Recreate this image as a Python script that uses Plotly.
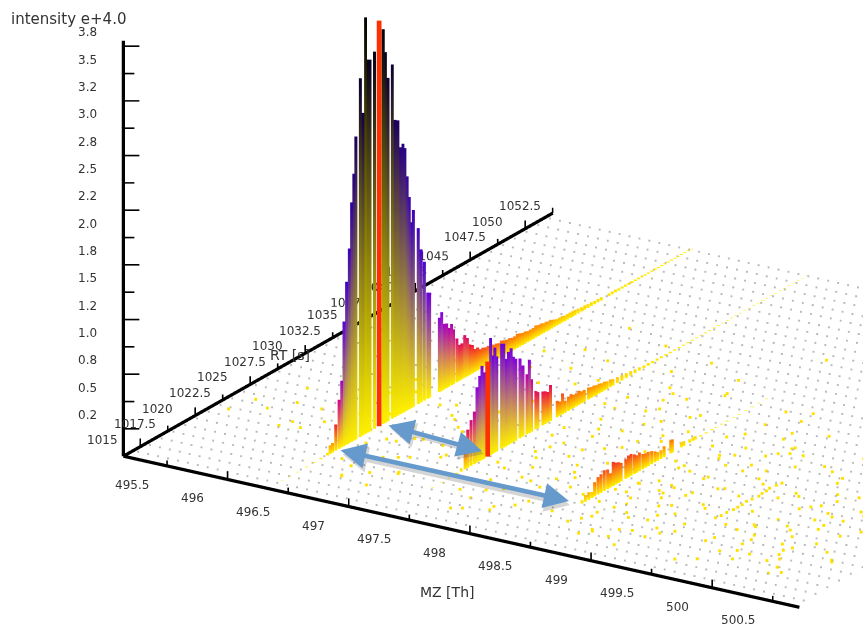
import plotly.graph_objects as go
import numpy as np

# axis extents and ticks
MZ_MIN, MZ_MAX = 495.14, 500.72
RT_MIN, RT_MAX = 1013.47, 1052.5
Z_TOP = 3.8
mz_ticks = [495.5, 496, 496.5, 497, 497.5, 498, 498.5, 499, 499.5, 500, 500.5]
mz_labels = ["495.5", "496", "496.5", "497", "497.5", "498", "498.5", "499", "499.5", "500", "500.5"]
rt_ticks = [1015, 1017.5, 1020, 1022.5, 1025, 1027.5, 1030, 1032.5, 1035, 1037.5, 1040, 1042.5, 1045, 1047.5, 1050, 1052.5]
rt_labels = ["1015", "1017.5", "1020", "1022.5", "1025", "1027.5", "1030", "1032.5", "1035", "1037.5", "1040", "1042.5", "1045", "1047.5", "1050", "1052.5"]
z_ticks = [0.25, 0.5, 0.75, 1.0, 1.25, 1.5, 1.75, 2.0, 2.25, 2.5, 2.75, 3.0, 3.25, 3.5, 3.75]
z_labels = ["0.2", "0.5", "0.8", "1.0", "1.2", "1.5", "1.8", "2.0", "2.2", "2.5", "2.8", "3.0", "3.2", "3.5", "3.8"]

# ridge 1 (m/z 496.34)
r1_mz = 496.34
r1_rt = [1014.7, 1015.4, 1016.1, 1016.9, 1017.6, 1018.2, 1018.81, 1019.05, 1019.26, 1019.56, 1019.86, 1020.10, 1020.31, 1020.55, 1020.79, 1021.00, 1021.20, 1021.39,
         1021.80, 1022.03, 1022.27, 1022.50, 1022.68, 1023.08, 1023.88, 1024.07, 1024.31, 1024.70, 1024.95, 1025.21, 1025.46, 1025.67, 1025.85, 1026.05, 1026.25, 1026.42, 1026.62,
         1027.06, 1027.32, 1027.62, 1027.92, 1028.10,
         1028.98, 1029.19, 1029.40, 1029.64, 1029.82, 1030.09, 1030.27, 1030.57, 1030.78, 1031.02, 1031.29, 1031.53, 1031.74, 1031.98, 1032.22, 1032.46, 1032.70, 1032.94, 1033.18, 1033.42,
         1033.66, 1033.90, 1034.14, 1034.38, 1034.62, 1034.86, 1035.10, 1035.34, 1035.58, 1035.82, 1036.06, 1036.30, 1036.54, 1036.78, 1037.02, 1037.26, 1037.50, 1037.74, 1037.98,
         1038.22, 1038.46, 1038.70, 1038.94, 1039.18, 1039.42, 1039.66, 1039.90, 1040.14, 1040.38, 1040.62, 1040.86, 1041.10, 1041.31,
         1041.6, 1041.9, 1042.2, 1042.5, 1042.8, 1043.1, 1043.4, 1043.7, 1044.4, 1044.7, 1045.0, 1045.3, 1045.6, 1045.9, 1046.2, 1046.5, 1046.8, 1047.1, 1047.4, 1047.7, 1048.0,
         1048.3, 1048.6, 1048.9, 1049.2, 1049.5, 1049.8, 1050.1, 1050.4, 1050.7, 1051.0, 1051.3, 1051.6, 1051.9]
r1_int = [0.004, 0.005, 0.005, 0.006, 0.008, 0.012, 0.024, 0.079, 0.088, 0.24, 0.45, 0.61, 1.14, 1.49, 1.78, 2.19, 2.44, 2.77,
          3.28, 2.95, 3.81, 3.41, 3.40, 3.45, 3.61, 3.39, 3.14, 3.24, 2.72, 2.70, 2.44, 2.46, 2.41, 2.14, 1.94, 1.70, 1.80,
          1.61, 1.40, 1.27, 0.97, 0.96,
          0.68, 0.72, 0.60, 0.59, 0.54, 0.56, 0.50, 0.40, 0.33, 0.33, 0.39, 0.35, 0.28, 0.26, 0.21, 0.21, 0.18, 0.18, 0.17, 0.17,
          0.16, 0.15, 0.15, 0.14, 0.15, 0.14, 0.13, 0.13, 0.12, 0.12, 0.13, 0.12, 0.11, 0.11, 0.10, 0.10, 0.10, 0.11, 0.10,
          0.10, 0.09, 0.09, 0.08, 0.08, 0.07, 0.06, 0.06, 0.06, 0.05, 0.05, 0.05, 0.05, 0.05,
          0.045, 0.04, 0.04, 0.035, 0.035, 0.03, 0.03, 0.03, 0.025, 0.025, 0.025, 0.02, 0.02, 0.02, 0.018, 0.018, 0.015, 0.015, 0.015, 0.012, 0.012,
          0.012, 0.012, 0.010, 0.010, 0.010, 0.010, 0.010, 0.008, 0.008, 0.008, 0.008, 0.008, 0.006]
r1_apex_rt, r1_apex_int = 1023.50, 3.71

# ridge 2 (m/z 497.30)
r2_mz = 497.30
r2_rt = [1017.8, 1018.6, 1019.3, 1020.0, 1020.39, 1020.75, 1020.99, 1021.29, 1021.59, 1021.83, 1022.07, 1022.28, 1022.46, 1023.06, 1023.24, 1023.45, 1023.63, 1024.06, 1024.26, 1024.45, 1024.69, 1024.93,
         1025.14, 1025.35, 1025.74, 1026.01, 1026.37, 1026.59, 1026.79, 1027.18, 1027.37, 1027.82, 1028.03, 1028.26, 1028.51,
         1029.12, 1029.36, 1029.60, 1029.84, 1030.14, 1030.38, 1030.62, 1030.86, 1031.10, 1031.34, 1031.58, 1031.97, 1032.21, 1032.45, 1032.69, 1032.93, 1033.17, 1033.41, 1033.65, 1033.95, 1034.19,
         1034.6, 1035.0, 1035.4, 1035.8, 1036.2, 1036.6, 1037.0, 1037.4, 1037.8, 1038.2, 1038.6, 1039.0, 1039.4, 1039.8, 1040.2, 1040.6, 1041.0, 1041.4, 1041.8, 1042.2, 1042.6, 1043.0,
         1043.4, 1043.8, 1044.2, 1044.6, 1045.0, 1045.4, 1045.8, 1046.2, 1046.6, 1047.0, 1047.4, 1047.8, 1048.2, 1048.6, 1049.0, 1049.4, 1049.8, 1050.2, 1050.6, 1051.0, 1051.4, 1051.8]
r2_int = [0.004, 0.005, 0.006, 0.012, 0.03, 0.27, 0.35, 0.42, 0.48, 0.69, 0.78, 0.86, 0.79, 1.07, 0.90, 0.96, 0.87, 0.96, 0.95, 0.80, 0.85, 0.87,
          0.78, 0.75, 0.73, 0.65, 0.55, 0.67, 0.48, 0.35, 0.33, 0.31, 0.30, 0.28, 0.33,
          0.15, 0.13, 0.19, 0.11, 0.13, 0.14, 0.12, 0.12, 0.13, 0.11, 0.11, 0.11, 0.10, 0.10, 0.09, 0.09, 0.08, 0.08, 0.07, 0.07, 0.06,
          0.055, 0.05, 0.045, 0.04, 0.035, 0.03, 0.025, 0.025, 0.02, 0.02, 0.018, 0.016, 0.014, 0.012, 0.012, 0.010, 0.010, 0.010, 0.008, 0.008, 0.008, 0.008,
          0.007, 0.007, 0.006, 0.006, 0.006, 0.006, 0.005, 0.005, 0.005, 0.005, 0.005, 0.005, 0.005, 0.004, 0.004, 0.004, 0.004, 0.004, 0.004, 0.004, 0.004, 0.004]
r2_apex_rt, r2_apex_int = 1022.79, 0.87

# ridge 3 (m/z 498.35)
r3_mz = 498.35
r3_rt = [1019.82, 1020.12, 1020.42, 1020.72, 1020.96, 1021.26, 1021.54, 1021.84, 1022.14, 1022.38, 1022.65, 1022.89, 1023.13, 1023.37, 1023.79, 1024.03, 1024.27, 1024.57, 1024.78, 1025.03, 1025.33,
         1025.60, 1025.84, 1026.14, 1026.44, 1026.68, 1026.98, 1027.28, 1027.88, 1028.03, 1028.85, 1029.06, 1029.60, 1029.90, 1030.11,
         1030.6, 1031.1, 1031.6, 1032.0, 1032.5, 1033.0, 1033.6, 1034.1, 1034.7, 1035.3, 1035.9, 1036.6]
r3_int = [0.03, 0.06, 0.07, 0.055, 0.13, 0.16, 0.17, 0.19, 0.18, 0.13, 0.22, 0.20, 0.19, 0.17, 0.18, 0.20, 0.20, 0.18, 0.16, 0.17, 0.14,
          0.13, 0.13, 0.12, 0.10, 0.08, 0.08, 0.10, 0.12, 0.12, 0.045, 0.045, 0.03, 0.03, 0.03,
          0.012, 0.010, 0.010, 0.008, 0.008, 0.008, 0.006, 0.006, 0.006, 0.005, 0.005, 0.005]

# scattered low-intensity peaks on the floor
noise_mz = [495.27, 495.33, 495.49, 495.52, 495.61, 495.68, 495.74, 495.78, 495.82, 495.89, 495.92, 495.95, 496.02, 496.05, 496.10, 496.10, 496.15, 496.18, 496.20, 496.22, 496.25, 496.28, 495.97, 496.07,
            496.44, 496.48, 496.51, 496.55, 496.57, 496.60, 496.62, 496.66, 496.69, 496.71, 496.74, 496.77, 496.79, 496.82, 496.85, 496.87, 496.90, 496.92, 496.95, 496.98, 497.00, 497.03, 497.06, 497.09, 497.12, 497.15, 496.53, 496.64, 496.76, 496.88, 497.01, 497.13, 496.47, 496.59, 496.72, 496.84,
            497.42, 497.45, 497.48, 497.51, 497.53, 497.56, 497.58, 497.61, 497.63, 497.66, 497.68, 497.71, 497.73, 497.76, 497.78, 497.81, 497.83, 497.86, 497.88, 497.91, 497.93, 497.96, 497.98, 498.01, 498.03, 498.06, 498.08, 498.11, 498.13, 498.16, 498.18, 498.21, 498.23, 498.26, 497.50, 497.62, 497.74, 497.87, 497.99, 498.12, 497.44, 497.57, 497.69, 497.82, 497.94, 498.07,
            498.45, 498.48, 498.51, 498.53, 498.56, 498.58, 498.61, 498.64, 498.66, 498.69, 498.71, 498.74, 498.76, 498.79, 498.82, 498.84, 498.87, 498.89, 498.92, 498.95, 498.97, 499.00, 499.03, 499.05, 499.08, 499.11, 499.14, 499.17, 499.20, 499.23, 498.50, 498.60, 498.70, 498.80, 498.90, 499.02, 499.12, 498.55, 498.67, 498.78, 498.91, 499.06,
            499.29, 499.30, 499.30, 499.31, 499.31, 499.31, 499.30, 499.31, 499.32, 499.31, 499.31, 499.30, 499.31, 499.32,
            499.40, 499.44, 499.47, 499.51, 499.54, 499.58, 499.61, 499.65, 499.68, 499.72, 499.75, 499.79, 499.82, 499.86, 499.89, 499.93, 499.96, 500.00, 500.04, 500.08, 500.12, 500.16, 500.20, 500.25, 500.30, 500.36, 500.42, 499.48, 499.60, 499.74, 499.88, 500.02, 500.18, 500.33, 499.55, 499.70, 499.84, 500.10,
            497.20, 498.30, 499.15, 499.35, 498.62, 496.80, 497.65,
            # second reading, denser patches
            497.46, 497.52, 497.55, 497.60, 497.64, 497.67, 497.72, 497.75, 497.79, 497.84, 497.89, 497.92, 497.97, 498.00, 498.04, 498.09, 498.14, 498.17, 498.22, 498.25,
            498.43, 498.46, 498.49, 498.52, 498.54, 498.57, 498.59, 498.62, 498.65, 498.68, 498.72, 498.75, 498.77, 498.81, 498.83, 498.86, 498.88, 498.93, 498.96, 498.99, 499.01, 499.04, 499.07, 499.10, 499.13, 499.16, 499.19, 499.22, 498.47, 498.58, 498.69, 498.73, 498.85, 498.94,
            499.42, 499.45, 499.49, 499.52, 499.56, 499.59, 499.63, 499.66, 499.69, 499.73, 499.77, 499.80, 499.83, 499.87, 499.91, 499.94, 499.98, 500.01, 500.05, 500.09, 500.13, 500.17, 500.22, 500.27, 500.31, 500.38, 500.44, 500.50, 499.62, 499.76, 499.90, 500.06, 500.15, 500.28,
            496.46, 496.52, 496.58, 496.63, 496.68, 496.73, 496.78, 496.83, 496.89, 496.94, 496.99, 497.04, 497.10, 497.16,
            500.03, 499.97, 499.50, 498.40]
noise_rt = [1021.6, 1023.4, 1022.7, 1026.0, 1024.1, 1028.3, 1021.0, 1021.8, 1024.0, 1021.3, 1026.4, 1029.0, 1031.5, 1027.6, 1033.0, 1024.4, 1030.2, 1026.0, 1028.4, 1023.5, 1031.0, 1025.2, 1022.6, 1029.8,
            1021.2, 1027.5, 1019.4, 1024.3, 1031.1, 1022.2, 1034.2, 1026.6, 1020.0, 1029.4, 1023.1, 1017.9, 1032.3, 1025.4, 1020.7, 1035.1, 1028.2, 1022.9, 1018.5, 1030.7, 1025.9, 1021.5, 1033.4, 1027.1, 1019.8, 1024.0, 1036.4, 1016.8, 1037.6, 1016.4, 1036.9, 1029.1, 1032.8, 1018.2, 1026.2, 1030.2,
            1022.4, 1028.1, 1018.3, 1033.2, 1024.6, 1020.2, 1030.0, 1026.3, 1017.6, 1035.4, 1022.7, 1027.8, 1019.5, 1032.1, 1024.9, 1021.1, 1029.2, 1017.2, 1034.5, 1026.7, 1020.6, 1031.3, 1023.2, 1018.7, 1028.4, 1036.2, 1025.1, 1021.4, 1033.0, 1019.1, 1027.4, 1023.8, 1030.8, 1020.9, 1037.3, 1015.9, 1034.8, 1016.7, 1038.0, 1029.7, 1031.9, 1025.5, 1016.2, 1032.7, 1022.0, 1035.9,
            1017.4, 1023.6, 1031.2, 1019.2, 1026.8, 1021.7, 1033.6, 1016.3, 1028.9, 1024.2, 1019.9, 1030.4, 1022.5, 1034.9, 1026.1, 1017.8, 1032.4, 1023.9, 1020.4, 1028.6, 1015.9, 1025.0, 1031.7, 1018.9, 1022.8, 1033.9, 1027.2, 1020.1, 1024.7, 1029.5, 1018.1, 1035.6, 1016.9, 1027.9, 1021.9, 1031.5, 1018.4, 1026.4, 1023.3, 1036.1, 1019.6, 1030.9,
            1021.6, 1022.0, 1022.5, 1023.0, 1023.4, 1023.8, 1024.3, 1024.7, 1025.2, 1025.6, 1026.0, 1026.4, 1026.9, 1027.3,
            1030.3, 1023.3, 1018.7, 1026.5, 1020.8, 1033.1, 1016.4, 1028.7, 1023.0, 1019.3, 1031.8, 1025.7, 1017.3, 1022.1, 1034.6, 1027.6, 1020.3, 1029.9, 1018.0, 1024.5, 1032.9, 1021.2, 1027.0, 1017.0, 1023.7, 1030.1, 1019.7, 1015.8, 1035.2, 1025.3, 1036.8, 1022.9, 1016.6, 1028.1, 1032.2, 1020.6, 1026.6, 1018.5,
            1040.1, 1042.6, 1044.0, 1046.3, 1047.4, 1041.2, 1039.3,
            1026.9, 1021.9, 1031.6, 1023.9, 1018.9, 1028.8, 1021.3, 1033.8, 1026.0, 1019.7, 1030.5, 1024.1, 1017.9, 1027.3, 1022.6, 1032.5, 1020.0, 1029.0, 1024.8, 1018.2,
            1020.5, 1027.1, 1022.3, 1029.8, 1018.6, 1024.4, 1032.0, 1020.9, 1026.3, 1017.1, 1023.1, 1029.3, 1019.4, 1025.8, 1021.5, 1033.3, 1023.4, 1018.0, 1027.7, 1030.6, 1021.0, 1025.2, 1017.6, 1028.3, 1022.4, 1031.0, 1019.0, 1026.7, 1023.6, 1020.2, 1028.5, 1024.0, 1016.7, 1030.0, 1021.1, 1025.5, 1019.3, 1032.7,
            1026.2, 1021.8, 1029.4, 1017.9, 1024.8, 1020.0, 1027.4, 1022.5, 1030.7, 1018.3, 1025.0, 1021.4, 1028.0, 1023.5, 1019.0, 1026.0, 1031.1, 1017.5, 1022.7, 1028.9, 1020.5, 1024.3, 1019.5, 1026.8, 1021.6, 1018.4, 1023.9, 1020.1, 1025.6, 1030.4, 1018.8, 1022.2, 1027.9, 1016.9,
            1023.0, 1028.8, 1020.4, 1032.6, 1025.0, 1018.7, 1030.3, 1021.9, 1027.0, 1034.4, 1019.6, 1024.7, 1029.9, 1022.3]

# floor marks, one dotted mark per grid crossing
floor_mz_step = 0.082
floor_rt_step = 1.07

AX = "#000000"
YELLOW_RED = [[0.0, "#fff000"], [0.013, "#ffc800"], [0.026, "#ff8800"], [0.066, "#f01830"], [0.118, "#d00090"],
              [0.184, "#8800e0"], [0.34, "#4a00d4"], [0.58, "#3000a0"], [0.74, "#180050"], [0.90, "#080020"], [1.0, "#000000"]]

def bars(mz, rts, ints):
    xs, ys, zs, cs = [], [], [], []
    for r, i in zip(rts, ints):
        xs += [mz, mz, None]
        ys += [r, r, None]
        zs += [0, i, None]
        cs += [0, i, 0]
    return xs, ys, zs, cs

fig = go.Figure()

# floor grid marks
fmz = np.arange(MZ_MIN + 0.04, MZ_MAX + 0.01, floor_mz_step)
frt = np.arange(RT_MIN + 0.9, RT_MAX + 0.01, floor_rt_step)
gx, gy = np.meshgrid(fmz, frt)
fig.add_trace(go.Scatter3d(x=gx.ravel(), y=gy.ravel(), z=np.zeros(gx.size), mode="markers",
                           marker=dict(size=1.0, color="#b8b8b8", symbol="square", line=dict(width=0)), hoverinfo="skip"))
fig.add_trace(go.Scatter3d(x=noise_mz, y=noise_rt, z=[0.002] * len(noise_mz), mode="markers",
                           marker=dict(size=1.5, color="#ffe000", symbol="square", line=dict(width=0)), hoverinfo="skip"))

# axes
fig.add_trace(go.Scatter3d(x=[MZ_MIN, MZ_MAX, None, MZ_MIN, MZ_MIN, None, MZ_MIN, MZ_MIN],
                           y=[RT_MIN, RT_MIN, None, RT_MIN, RT_MAX, None, RT_MIN, RT_MIN],
                           z=[0, 0, None, 0, 0, None, 0, Z_TOP], mode="lines",
                           line=dict(color=AX, width=6.5), hoverinfo="skip"))
tx, ty, tz = [], [], []
for k, m in enumerate(mz_ticks):
    tx += [m, m, None]; ty += [RT_MIN, RT_MIN, None]; tz += [0, 0.075 if k % 2 else 0.05, None]
for k, r in enumerate(rt_ticks):
    tx += [MZ_MIN, MZ_MIN, None]; ty += [r, r, None]; tz += [0, 0.075 if k % 2 == 0 else 0.05, None]
for k, v in enumerate(z_ticks):
    L = 16 if k % 2 == 0 else 11
    tx += [MZ_MIN, MZ_MIN + L * 0.00587, None]; ty += [RT_MIN, RT_MIN + L * 0.02576, None]; tz += [v, v, None]
fig.add_trace(go.Scatter3d(x=tx, y=ty, z=tz, mode="lines", line=dict(color=AX, width=3.2), hoverinfo="skip"))

# ridges
for mz, rts, ints in [(r1_mz, r1_rt, r1_int), (r2_mz, r2_rt, r2_int), (r3_mz, r3_rt, r3_int)]:
    xs, ys, zs, cs = bars(mz, rts, ints)
    fig.add_trace(go.Scatter3d(x=xs, y=ys, z=zs, mode="lines",
                               line=dict(color=cs, colorscale=YELLOW_RED, cmin=0, cmax=Z_TOP, width=5.9, showscale=False),
                               hoverinfo="skip"))
# apex scans
fig.add_trace(go.Scatter3d(x=[r1_mz, r1_mz, None, r2_mz, r2_mz], y=[r1_apex_rt, r1_apex_rt, None, r2_apex_rt, r2_apex_rt],
                           z=[0, r1_apex_int, None, 0, r2_apex_int], mode="lines",
                           line=dict(color="#ff3000", width=9.5), hoverinfo="skip"))

# labels behind the tall peak keep their depth
hidden = {"1037.5", "1040", "1042.5", "1045"}
hid = [i for i, t in enumerate(rt_labels) if t in hidden]
fig.add_trace(go.Scatter3d(x=[MZ_MIN - 0.26] * len(hid), y=[rt_ticks[i] - 0.45 for i in hid], z=[0.0] * len(hid),
                           mode="text", text=[rt_labels[i] for i in hid], textposition="middle center",
                           textfont=dict(family="DejaVu Sans", size=12, color="#333333"), hoverinfo="skip"))

ann3d = []
TF = dict(family="DejaVu Sans", size=12, color="#333333")
for m, t in zip(mz_ticks, mz_labels):
    ann3d.append(dict(x=m, y=RT_MIN, z=0, text=t, showarrow=False, xshift=-35, yshift=-19, font=TF))
for r, t in zip(rt_ticks, rt_labels):
    if t in hidden:
        continue
    ann3d.append(dict(x=MZ_MIN, y=r, z=0, text=t, showarrow=False, xshift=-33 if "." in t else -38, yshift=7, font=TF))
for v, t in zip(z_ticks, z_labels):
    ann3d.append(dict(x=MZ_MIN, y=RT_MIN, z=v, text=t, showarrow=False, xshift=-36, yshift=14, font=TF))

def arrow(x0, y0, x1, y1, color, w=4.6):
    return dict(xref="paper", yref="paper", x=x1 / 863, y=1 - y1 / 629, ax=x0 - x1, ay=y0 - y1, text="",
                showarrow=True, arrowhead=2, startarrowhead=2, arrowside="end+start", arrowsize=1.1, startarrowsize=1.1,
                arrowwidth=w, arrowcolor=color)

def title(x, y, text, size):
    return dict(xref="paper", yref="paper", x=x / 863, y=1 - y / 629, text=text, showarrow=False,
                xanchor="center", yanchor="middle", font=dict(family="DejaVu Sans", size=size, color="#333333"))

SH = "rgba(90,90,90,0.25)"
BL = "#6699cc"
annotations = [
    arrow(341, 454, 570, 505, SH), arrow(389, 428, 484, 454, SH),
    arrow(339, 450, 569, 501, BL), arrow(387, 425, 482, 451, BL),
    title(68, 19, "intensity e+4.0", 15),
    title(447, 592, "MZ [Th]", 14),
    title(290, 355, "RT [s]", 14),
]

hidden_axis = dict(visible=False, showgrid=False, showbackground=False, zeroline=False, showspikes=False)
center = dict(x=-0.526, y=-0.495, z=-0.3635)
D = 6.0
eye = dict(x=center["x"] + 0.497 * D, y=center["y"] - 0.791 * D, z=center["z"] + 0.3556 * D)
fig.update_layout(
    width=863, height=629, margin=dict(l=0, r=0, t=0, b=0), paper_bgcolor="white", showlegend=False,
    annotations=annotations,
    scene=dict(
        domain=dict(x=[0, 1], y=[0, 1]),
        xaxis=dict(range=[494.5, 501.0], **hidden_axis),
        yaxis=dict(range=[1013.0, 1053.0], **hidden_axis),
        zaxis=dict(range=[-0.1, 4.0], **hidden_axis),
        aspectmode="manual", aspectratio=dict(x=2.957, y=2.629, z=1.525),
        camera=dict(eye=eye, center=center, up=dict(x=0, y=0, z=1), projection=dict(type="orthographic")),
        dragmode=False,
        annotations=ann3d,
    ),
)
assert len(noise_mz) == len(noise_rt), (len(noise_mz), len(noise_rt))
assert len(r1_rt) == len(r1_int) and len(r2_rt) == len(r2_int) and len(r3_rt) == len(r3_int)
fig.write_html("out.html", config=dict(displayModeBar=False), post_script="document.body.style.margin='0px';")
